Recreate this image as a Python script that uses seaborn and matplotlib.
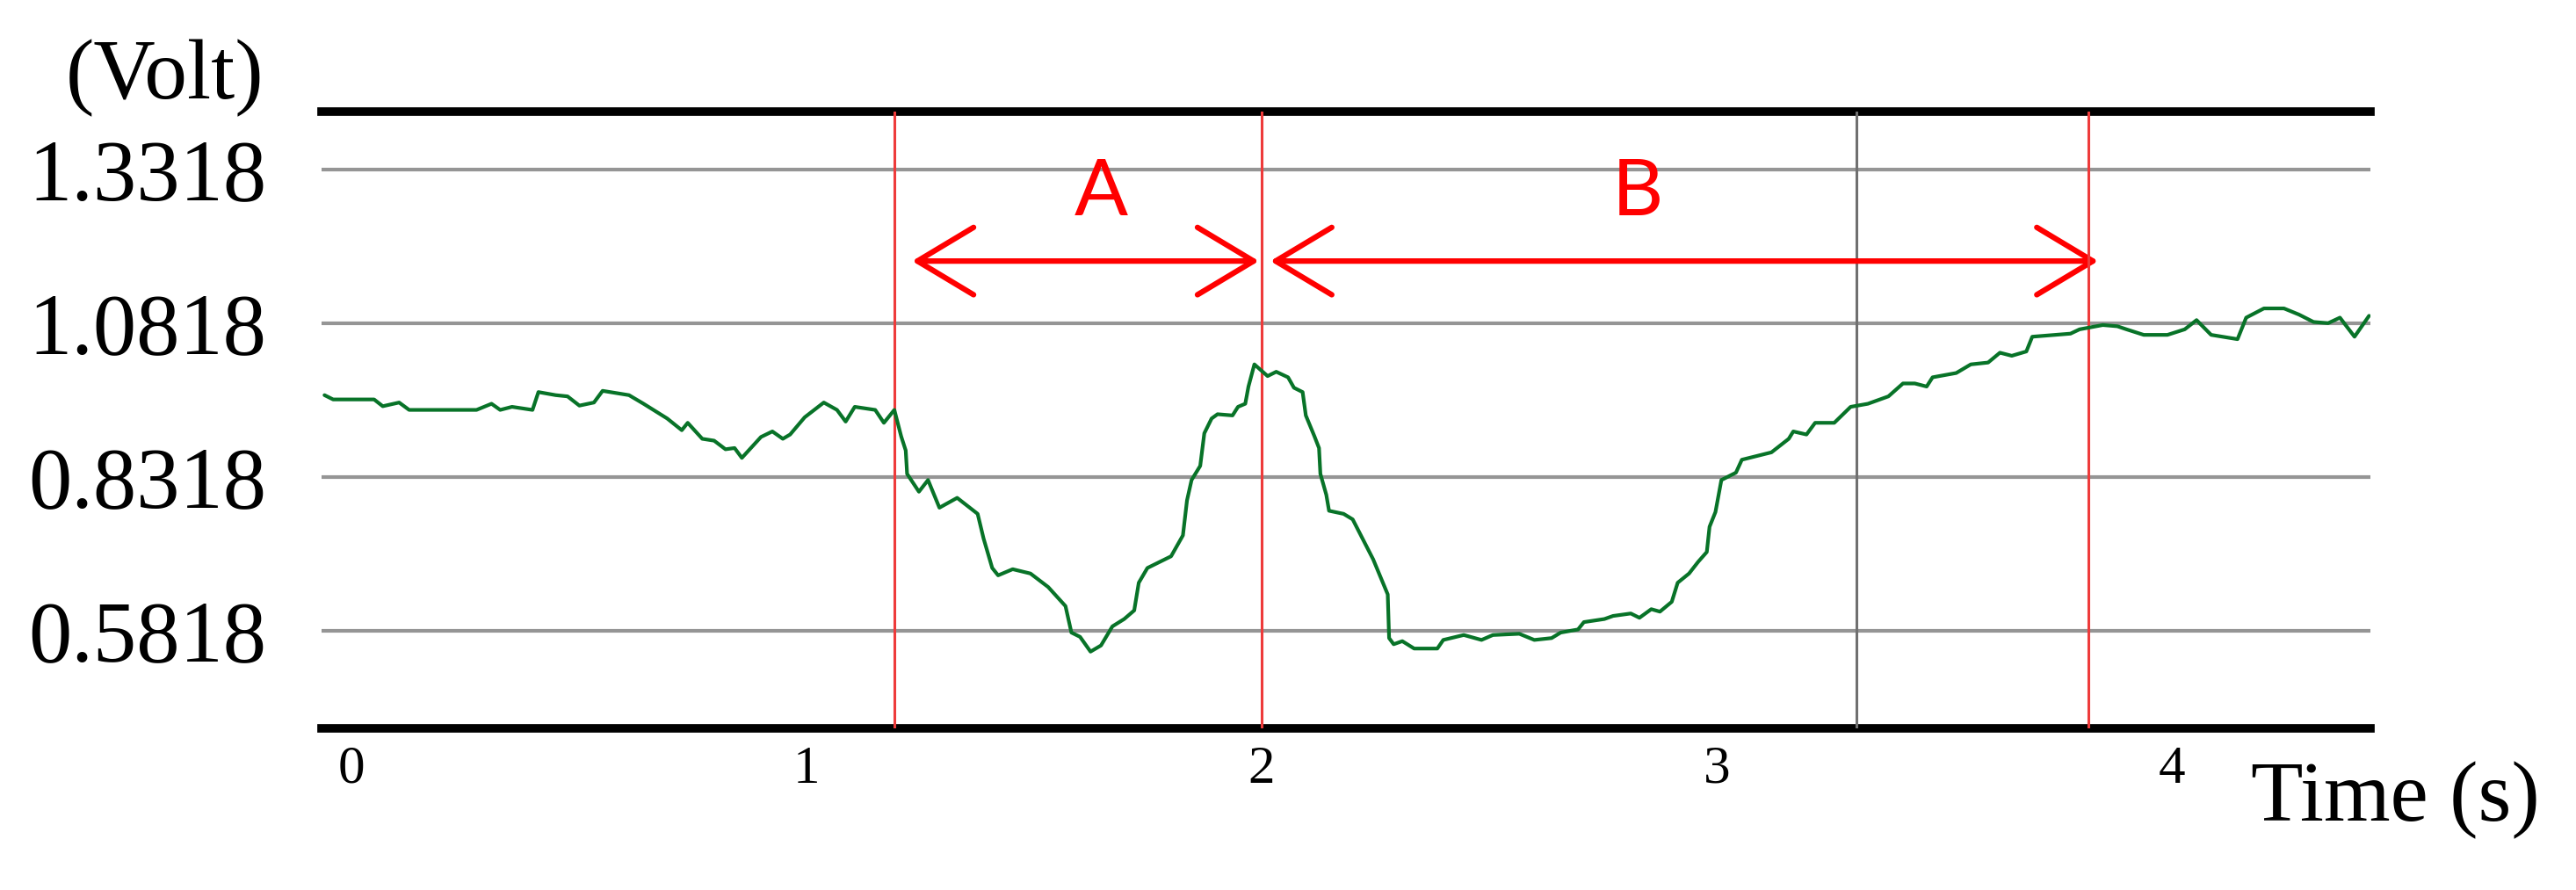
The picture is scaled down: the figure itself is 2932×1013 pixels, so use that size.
import pandas as pd
import seaborn as sns
import matplotlib
matplotlib.use('Agg')
import matplotlib.pyplot as plt

# signal trace
time_s = [-0.059, -0.040, 0.050, 0.069, 0.105, 0.127, 0.275, 0.308, 0.327, 0.353,
          0.398, 0.411, 0.449, 0.475, 0.501, 0.533, 0.552, 0.610, 0.642, 0.694,
          0.726, 0.739, 0.771, 0.797, 0.822, 0.842, 0.858, 0.900, 0.925, 0.948,
          0.964, 0.996, 1.038, 1.067, 1.086, 1.106, 1.151, 1.170, 1.193, 1.208,
          1.218, 1.221, 1.247, 1.267, 1.292, 1.331, 1.376, 1.389, 1.408, 1.421,
          1.453, 1.492, 1.531, 1.569, 1.582, 1.601, 1.624, 1.647, 1.672, 1.698,
          1.720, 1.730, 1.749, 1.801, 1.827, 1.836, 1.846, 1.865, 1.874, 1.890,
          1.903, 1.936, 1.948, 1.964, 1.971, 1.984, 2.013, 2.032, 2.058, 2.071,
          2.090, 2.097, 2.116, 2.126, 2.129, 2.142, 2.148, 2.180, 2.200, 2.225,
          2.245, 2.277, 2.280, 2.290, 2.309, 2.335, 2.386, 2.399, 2.444, 2.483,
          2.508, 2.566, 2.599, 2.637, 2.657, 2.695, 2.708, 2.753, 2.772, 2.811,
          2.830, 2.856, 2.875, 2.901, 2.914, 2.939, 2.959, 2.978, 2.984, 2.997,
          3.010, 3.042, 3.055, 3.120, 3.158, 3.168, 3.197, 3.216, 3.258, 3.294,
          3.332, 3.377, 3.409, 3.435, 3.461, 3.474, 3.526, 3.558, 3.596, 3.622,
          3.648, 3.680, 3.693, 3.777, 3.797, 3.848, 3.880, 3.900, 3.938, 3.990,
          4.028, 4.054, 4.086, 4.144, 4.163, 4.202, 4.246, 4.279, 4.311, 4.343,
          4.369, 4.401, 4.433]
volt = [0.965, 0.958, 0.958, 0.947, 0.953, 0.941, 0.941, 0.951, 0.941, 0.946,
        0.941, 0.970, 0.965, 0.963, 0.948, 0.953, 0.972, 0.965, 0.951, 0.927,
        0.908, 0.920, 0.894, 0.891, 0.877, 0.879, 0.863, 0.897, 0.906, 0.894,
        0.901, 0.929, 0.953, 0.941, 0.922, 0.946, 0.941, 0.920, 0.941, 0.898,
        0.875, 0.837, 0.808, 0.827, 0.782, 0.798, 0.772, 0.732, 0.684, 0.672,
        0.682, 0.675, 0.653, 0.622, 0.579, 0.572, 0.548, 0.558, 0.589, 0.601,
        0.615, 0.660, 0.684, 0.703, 0.737, 0.794, 0.827, 0.850, 0.903, 0.927,
        0.934, 0.932, 0.946, 0.951, 0.979, 1.015, 0.996, 1.003, 0.994, 0.977,
        0.970, 0.932, 0.898, 0.879, 0.837, 0.803, 0.777, 0.772, 0.763, 0.727,
        0.698, 0.641, 0.570, 0.560, 0.565, 0.553, 0.553, 0.567, 0.575, 0.567,
        0.575, 0.577, 0.567, 0.570, 0.579, 0.584, 0.596, 0.601, 0.606, 0.610,
        0.603, 0.617, 0.613, 0.629, 0.660, 0.675, 0.694, 0.710, 0.751, 0.775,
        0.827, 0.839, 0.860, 0.872, 0.894, 0.906, 0.901, 0.920, 0.920, 0.946,
        0.951, 0.963, 0.984, 0.984, 0.979, 0.994, 1.001, 1.015, 1.018, 1.034,
        1.029, 1.036, 1.060, 1.065, 1.072, 1.079, 1.077, 1.072, 1.063, 1.063,
        1.072, 1.087, 1.063, 1.056, 1.091, 1.106, 1.106, 1.096, 1.084, 1.082,
        1.091, 1.060, 1.094]

volt_ticks = [0.5818, 0.8318, 1.0818, 1.3318]
volt_labels = ['0.5818', '0.8318', '1.0818', '1.3318']
time_ticks = [0, 1, 2, 3, 4]
time_labels = ['0', '1', '2', '3', '4']

marker_times = [1.193, 2.0, 3.817]   # red cursors
cursor_time = 3.307                  # grey cursor
span_a = (1.232, 1.994)
span_b = (2.019, 3.838)
arrow_level = 1.183
span_names = ['A', 'B']
span_label_x = [1.647, 2.826]
span_label_y = 1.2575

sns.set_style('white')
plt.rcParams['font.family'] = ['Liberation Serif', 'DejaVu Serif']
plt.rcParams['text.color'] = 'black'
plt.rcParams['xtick.color'] = 'black'
plt.rcParams['ytick.color'] = 'black'

df = pd.DataFrame({'Time': time_s, 'Volt': volt})

fig = plt.figure(figsize=(29.32, 10.13), dpi=100)
ax = fig.add_axes([0.1248, 0.1816, 0.7954, 0.693])

sns.lineplot(data=df, x='Time', y='Volt', ax=ax, color='#087328',
             linewidth=3.0, estimator=None, sort=False, zorder=5)

ax.set_xlim(-0.0656, 4.436)
ax.set_ylim(0.4232, 1.426)
ax.set_yticks(volt_ticks, volt_labels)
ax.set_xticks(time_ticks, time_labels)
ax.tick_params(axis='y', length=0, pad=45, labelsize=71, labelcolor='black')
ax.tick_params(axis='x', length=0, pad=14, labelsize=44, labelcolor='black')
ax.grid(axis='y', color='#959595', linewidth=3)
ax.grid(axis='x', visible=False)
ax.set_xlabel('')
ax.set_ylabel('')

for side in ['left', 'right']:
    ax.spines[side].set_visible(False)
for side in ['top', 'bottom']:
    ax.spines[side].set_color('black')
    ax.spines[side].set_linewidth(7)

# cursors
ax.axvline(cursor_time, color='#707070', linewidth=2.2, zorder=3)
for t in marker_times:
    ax.axvline(t, color='#ee3b3b', linewidth=2.2, zorder=4)

# span arrows
for (t0, t1), name, lx in zip([span_a, span_b], span_names, span_label_x):
    ax.annotate('', xy=(t1, arrow_level), xytext=(t0, arrow_level),
                arrowprops=dict(arrowstyle='<->,head_length=4.6,head_width=2.76',
                                color='red', lw=4.5, shrinkA=0, shrinkB=0,
                                mutation_scale=10))
    ax.text(lx, span_label_y, name, color='red', fontsize=65,
            family=['Lato', 'DejaVu Sans'], ha='center', va='baseline')

fig.text(0.0256, 0.8894, '(Volt)', fontsize=70, ha='left', va='baseline')
fig.text(0.8738, 0.0780, 'Time (s)', fontsize=70, ha='left', va='baseline')

fig.savefig('out.png', dpi=100)
